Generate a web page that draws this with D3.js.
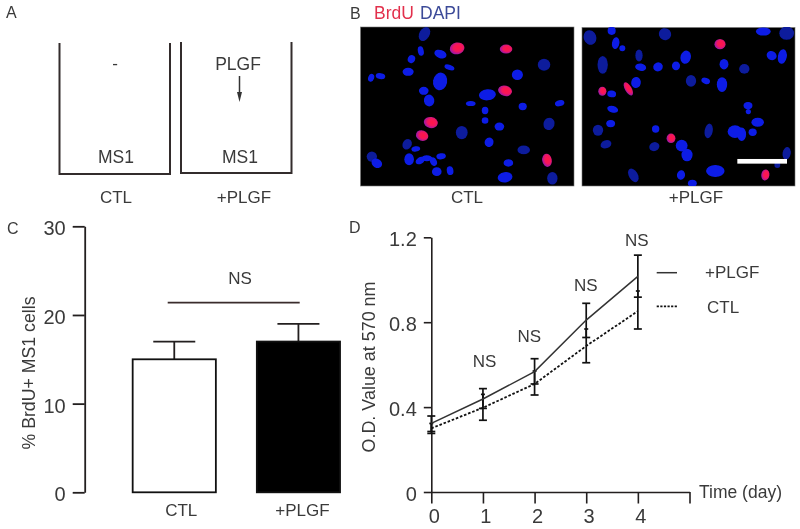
<!DOCTYPE html>
<html lang='en'>
  <head>
    <meta charset='utf-8'>
    <style type='text/css'>
      html, body {margin: 0; padding: 0; background-color: #fff;}
      svg {display: block; filter: blur(0.35px);}
      text {font-family: 'Liberation Sans', Arial, sans-serif; fill: #3a3a3a;}
    </style>
  </head>
  <body>
    <svg id='figure' width='800' height='529'></svg>

    <script src='https://d3js.org/d3.v7.min.js'></script>
    <script type='text/javascript'>
      // panel C values
      var barGroups = ['CTL', '+PLGF'];
      var barValues = [15, 17];
      var barErrors = [2, 2];
      var barTicks = [0, 10, 20, 30];
      var barBracket = 21.4;

      // panel D values
      var days = [0, 1, 2, 3, 4];
      var plgfMean = [0.323, 0.438, 0.567, 0.81, 1.016];
      var plgfUpper = [0.358, 0.487, 0.628, 0.889, 1.116];
      var plgfLower = [0.285, 0.394, 0.509, 0.728, 0.918];
      var ctlMean = [0.30, 0.397, 0.509, 0.688, 0.852];
      var ctlUpper = [0.323, 0.46, 0.57, 0.768, 0.947];
      var ctlLower = [0.276, 0.338, 0.457, 0.609, 0.768];
      var odTicks = [0, 0.4, 0.8, 1.2];
      var dayTicks = [0, 1, 2, 3, 4, 5];
      var nsDays = [1.03, 1.9, 2.99, 3.98];
      var nsHeights = [0.59, 0.706, 0.947, 1.158];

      // panel B nuclei: x, y, rx, ry, angle
      var ctlBright = [[227,154,8,13,-10],[199,178,10,11,20],[286,163,17,11,20],[313,203,14,7,20],[189,216,15,11,0],[78,234,8,11,20],[106,229,13,8,10],[285,245,19,24,10],[236,273,13,11,0],[252,302,14,16,-10],[377,311,13,7,0],[427,285,23,15,-5],[517,225,15,14,0],[533,320,11,10,0],[644,310,13,8,-15],[420,332,9,10,0],[420,362,9,9,0],[463,380,13,11,0],[432,427,12,13,20],[212,447,12,7,-10],[95,490,15,12,30],[192,478,13,16,0],[225,482,13,9,-30],[245,475,15,8,0],[265,485,9,12,-25],[288,469,13,8,-10],[275,515,13,12,0],[315,512,9,12,-10],[490,489,13,10,0],[480,532,20,14,-10]];
      var ctlDim = [[238,103,14,20,30],[597,195,17,16,0],[612,372,15,17,20],[350,398,16,18,0],[186,433,12,15,30],[536,450,17,12,0],[80,470,14,14,0],[622,535,14,17,0]];
      var ctlPink = [[336,146,20,16,-10],[483,148,17,12,0],[480,273,19,14,15],[257,368,19,15,10],[231,407,17,14,20],[606,481,13,18,-10]];
      var plgfBright = [[110,48,11,11,0],[122,85,10,16,10],[142,100,8,8,0],[565,50,20,11,0],[197,157,15,10,10],[249,156,13,12,-20],[303,153,11,12,0],[332,127,14,18,15],[447,148,12,14,0],[590,122,14,12,30],[622,125,12,20,10],[392,198,12,8,20],[441,209,14,20,0],[183,203,13,15,10],[110,237,12,9,10],[113,283,15,9,15],[107,326,12,10,0],[242,342,10,10,0],[519,272,12,10,0],[520,290,7,7,0],[548,322,17,12,0],[480,350,20,17,0],[500,358,12,18,0],[533,352,11,10,0],[320,392,16,16,0],[336,420,15,17,0],[318,480,11,13,10],[421,468,25,16,0],[352,505,12,10,0]];
      var plgfDim = [[45,68,17,20,-20],[270,58,17,16,30],[635,55,20,18,0],[192,122,10,16,0],[83,150,14,24,0],[508,162,14,13,0],[348,198,14,16,0],[69,346,14,15,0],[93,388,15,11,-20],[238,395,14,12,-20],[401,348,11,20,10],[175,481,12,20,-30],[635,415,11,17,10],[607,450,8,8,0]];
      var plgfPink = [[435,88,15,14,0],[82,229,11,12,0],[160,222,9,20,-30],[288,370,12,13,0],[571,480,11,15,10]];

      var svg = d3.select('#figure');
      var ink = '#231f1f';

      function label(x, y, str, size, anchor, colour) {
        return svg.append('text')
          .attr('x', x).attr('y', y)
          .attr('font-size', size)
          .attr('text-anchor', anchor || 'start')
          .style('fill', colour || null)
          .text(str);
      }

      function vlabel(x, y, str, size, len) {
        return svg.append('text')
          .attr('transform', 'translate(' + x + ',' + y + ') rotate(-90)')
          .attr('font-size', size)
          .attr('text-anchor', 'middle')
          .attr('textLength', len)
          .attr('lengthAdjust', 'spacingAndGlyphs')
          .text(str);
      }

      // panel letters
      label(6, 18, 'A', 16);
      label(350, 19, 'B', 16);
      label(7, 234, 'C', 16);
      label(349, 233, 'D', 16);

      /* panel A: the two wells */
      var well = d3.line();
      [[59.5, 170, 43, 174], [181, 291.5, 42, 173]].forEach(function(w) {
        svg.append('path')
          .attr('d', well([[w[0], w[2]], [w[0], w[3]], [w[1], w[3]], [w[1], w[2]]]))
          .attr('fill', 'none')
          .attr('stroke', '#332c2c')
          .attr('stroke-width', 2);
      });
      label(115, 69, '-', 17, 'middle');
      label(238, 69.5, 'PLGF', 17.5, 'middle');
      svg.append('path').attr('d', 'M239.5,76V95').attr('stroke', '#333').attr('stroke-width', 1.5);
      svg.append('path').attr('d', 'M237,92L242,92L239.5,102Z').attr('fill', '#333');
      label(116, 163, 'MS1', 17.5, 'middle');
      label(240, 163, 'MS1', 17.5, 'middle');
      label(116, 203, 'CTL', 17, 'middle');
      label(244, 203, '+PLGF', 17, 'middle');

      /* panel B: micrographs */
      label(374, 19, 'BrdU', 17.5, 'start', '#e2304c');
      label(420, 19, 'DAPI', 17.5, 'start', '#3c4a98');

      var defs = svg.append('defs');
      defs.append('filter').attr('id', 'soft')
        .attr('x', '-5%').attr('y', '-5%').attr('width', '110%').attr('height', '110%')
        .append('feGaussianBlur').attr('stdDeviation', 0.7);
      var pinkGrad = defs.append('radialGradient').attr('id', 'pinkCell')
        .attr('cx', '58%').attr('cy', '45%').attr('r', '62%');
      pinkGrad.append('stop').attr('offset', '0%').attr('stop-color', '#ff1248');
      pinkGrad.append('stop').attr('offset', '50%').attr('stop-color', '#f4125c');
      pinkGrad.append('stop').attr('offset', '100%').attr('stop-color', '#8a1ab8');
      defs.append('clipPath').attr('id', 'clipA').append('rect')
        .attr('x', 360.5).attr('y', 27).attr('width', 213.5).attr('height', 159);
      defs.append('clipPath').attr('id', 'clipB').append('rect')
        .attr('x', 582).attr('y', 27.5).attr('width', 213).attr('height', 158.5);

      function micrograph(clip, dom, ran, yDom, yRan, bright, dim, pink) {
        var px = d3.scaleLinear().domain(dom).range(ran);
        var py = d3.scaleLinear().domain(yDom).range(yRan);
        svg.append('rect')
          .attr('x', ran[0]).attr('y', yRan[0])
          .attr('width', ran[1] - ran[0]).attr('height', yRan[1] - yRan[0])
          .attr('fill', '#000')
          .attr('stroke', '#777').attr('stroke-width', 0.6);
        var g = svg.append('g').attr('clip-path', 'url(#' + clip + ')').append('g').attr('filter', 'url(#soft)');
        function cells(list, fill) {
          g.selectAll(null).data(list).enter().append('ellipse')
            .attr('transform', function(d) {
              return 'translate(' + px(d[0]) + ',' + py(d[1]) + ') rotate(' + d[4] + ')';
            })
            .attr('rx', function(d) { return d[2] / 2.7; })
            .attr('ry', function(d) { return d[3] / 2.7; })
            .attr('fill', fill);
        }
        cells(dim, '#0a1a9c');
        cells(bright, '#0a1ee6');
        cells(pink, 'url(#pinkCell)');
        return {x: px, y: py};
      }

      micrograph('clipA', [46, 687], [360.5, 574], [82, 558], [27, 186], ctlBright, ctlDim, ctlPink);
      var right = micrograph('clipB', [21, 660], [582, 795], [38, 513], [27.5, 186], plgfBright, plgfDim, plgfPink);
      svg.append('rect')
        .attr('x', right.x(487)).attr('y', right.y(432))
        .attr('width', right.x(636) - right.x(487)).attr('height', right.y(446) - right.y(432))
        .attr('fill', '#fff');
      label(467, 203, 'CTL', 17, 'middle');
      label(696, 203, '+PLGF', 17, 'middle');

      /* panel C: bars */
      var yC = d3.scaleLinear().domain([0, 30]).range([492.3, 226.3]);
      var xC = d3.scaleBand().domain(barGroups).range([91.7, 381]).paddingInner(0.33).paddingOuter(0.33);

      var axC = svg.append('g')
        .attr('transform', 'translate(84.7,0)')
        .call(d3.axisLeft(yC).tickValues(barTicks).tickSize(12).tickSizeOuter(0).tickPadding(7));
      axC.selectAll('path, line').attr('stroke', ink).attr('stroke-width', 1.8);
      axC.selectAll('text').attr('font-size', 20).attr('font-family', null).attr('dy', '0.42em');
      axC.attr('font-family', null);

      var bars = svg.selectAll('g.bar').data(barGroups).enter().append('g').attr('class', 'bar');
      // error bars first, so the bar top covers the foot of the whisker
      bars.append('line')
        .attr('x1', function(d) { return xC(d) + xC.bandwidth() / 2; })
        .attr('x2', function(d) { return xC(d) + xC.bandwidth() / 2; })
        .attr('y1', function(d, i) { return yC(barValues[i]); })
        .attr('y2', function(d, i) { return yC(barValues[i] + barErrors[i]); })
        .attr('stroke', ink).attr('stroke-width', 1.8);
      bars.append('line')
        .attr('x1', function(d) { return xC(d) + xC.bandwidth() / 2 - 21; })
        .attr('x2', function(d) { return xC(d) + xC.bandwidth() / 2 + 21; })
        .attr('y1', function(d, i) { return yC(barValues[i] + barErrors[i]); })
        .attr('y2', function(d, i) { return yC(barValues[i] + barErrors[i]); })
        .attr('stroke', ink).attr('stroke-width', 1.8);
      bars.append('rect')
        .attr('x', function(d) { return xC(d); })
        .attr('y', function(d, i) { return yC(barValues[i]); })
        .attr('width', xC.bandwidth())
        .attr('height', function(d, i) { return yC(0) - yC(barValues[i]); })
        .attr('fill', function(d, i) { return i ? '#000' : '#fff'; })
        .attr('stroke', '#111').attr('stroke-width', 1.8);
      bars.append('text')
        .attr('x', function(d) { return xC(d) + xC.bandwidth() / 2 + (d === 'CTL' ? 7 : 4); })
        .attr('y', 516)
        .attr('font-size', 17)
        .attr('text-anchor', 'middle')
        .text(function(d) { return d; });

      svg.append('line')
        .attr('x1', 167.7).attr('x2', 299.7)
        .attr('y1', yC(barBracket)).attr('y2', yC(barBracket))
        .attr('stroke', '#3a2c2c').attr('stroke-width', 1.8);
      label(240, 284, 'NS', 17, 'middle');
      vlabel(34.5, 373, '% BrdU+ MS1 cells', 17.5, 153);

      /* panel D: growth curves */
      var yD = d3.scaleLinear().domain([0, 1.2]).range([492, 237.3]);
      var xD = d3.scaleLinear().domain([0, 5]).range([431.3, 689.5]);

      var axY = svg.append('g')
        .attr('transform', 'translate(431.3,0)')
        .call(d3.axisLeft(yD).tickValues(odTicks).tickSize(7.5).tickSizeOuter(0).tickPadding(7)
          .tickFormat(function(d) { return d === 0 ? '0' : d3.format('.1f')(d); }));
      axY.attr('font-family', null);
      axY.selectAll('path, line').attr('stroke', ink).attr('stroke-width', 1.6);
      axY.selectAll('text').attr('font-size', 20).attr('dy', '0.4em');

      var axX = svg.append('g')
        .attr('transform', 'translate(0,492)')
        .call(d3.axisBottom(xD).tickValues(dayTicks).tickSize(11.5).tickSizeOuter(0).tickPadding(5)
          .tickFormat(function(d) { return d === 5 ? '' : d; }));
      axX.attr('font-family', null);
      axX.selectAll('path, line').attr('stroke', ink).attr('stroke-width', 1.6);
      axX.selectAll('text').attr('font-size', 20).attr('dx', '0.12em');

      var lineD = d3.line()
        .x(function(d, i) { return xD(days[i]); })
        .y(function(d) { return yD(d); });

      function whiskers(upper, lower, upperCap, lowerCap) {
        var g = svg.append('g').attr('stroke', '#111').attr('stroke-width', 1.7);
        g.selectAll(null).data(days).enter().append('line')
          .attr('x1', function(d) { return xD(d); })
          .attr('x2', function(d) { return xD(d); })
          .attr('y1', function(d, i) { return yD(upper[i]); })
          .attr('y2', function(d, i) { return yD(lower[i]); });
        g.selectAll(null).data(days).enter().append('line')
          .attr('x1', function(d) { return xD(d) - upperCap; })
          .attr('x2', function(d) { return xD(d) + upperCap; })
          .attr('y1', function(d, i) { return yD(upper[i]); })
          .attr('y2', function(d, i) { return yD(upper[i]); });
        g.selectAll(null).data(days).enter().append('line')
          .attr('x1', function(d) { return xD(d) - lowerCap; })
          .attr('x2', function(d) { return xD(d) + lowerCap; })
          .attr('y1', function(d, i) { return yD(lower[i]); })
          .attr('y2', function(d, i) { return yD(lower[i]); });
      }
      whiskers(plgfUpper, plgfLower, 4, 4);
      whiskers(ctlUpper, ctlLower, 2, 4);

      svg.append('path').datum(plgfMean).attr('d', lineD)
        .attr('fill', 'none').attr('stroke', '#333').attr('stroke-width', 1.5);
      svg.append('path').datum(ctlMean).attr('d', lineD)
        .attr('fill', 'none').attr('stroke', '#111').attr('stroke-width', 1.8)
        .attr('stroke-dasharray', '2.6,1.8');

      svg.selectAll('text.ns').data(nsDays).enter().append('text')
        .attr('class', 'ns')
        .attr('x', function(d) { return xD(d); })
        .attr('y', function(d, i) { return yD(nsHeights[i]); })
        .attr('font-size', 17)
        .attr('text-anchor', 'middle')
        .text('NS');

      vlabel(375, 367, 'O.D. Value at 570 nm', 18, 171);
      label(699, 498, 'Time (day)', 17.5);

      // legend
      svg.append('line').attr('x1', 656.7).attr('x2', 677).attr('y1', 272.7).attr('y2', 272.7)
        .attr('stroke', '#333').attr('stroke-width', 1.5);
      svg.append('line').attr('x1', 656.7).attr('x2', 677).attr('y1', 306.3).attr('y2', 306.3)
        .attr('stroke', '#111').attr('stroke-width', 1.8).attr('stroke-dasharray', '2.2,1.4');
      label(705, 278, '+PLGF', 17);
      label(707, 313, 'CTL', 17);
    </script>
  </body>
</html>
